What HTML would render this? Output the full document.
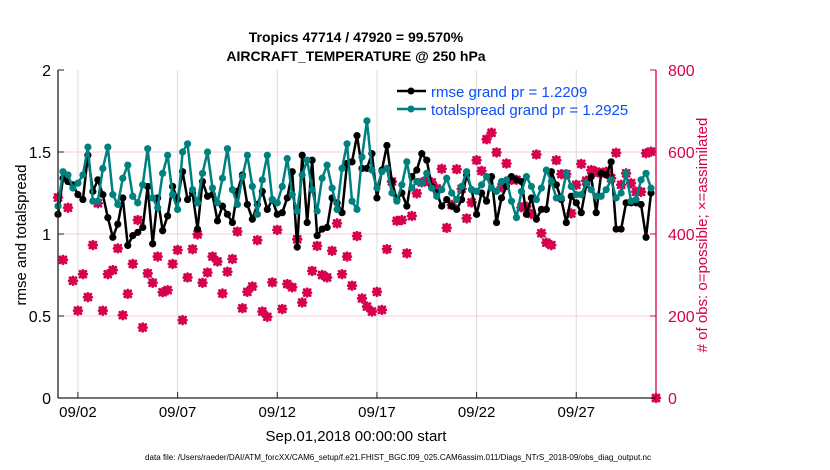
<!DOCTYPE html>
<html><head><meta charset="utf-8"><style>
body{margin:0;background:#fff;}
svg{display:block;font-family:"Liberation Sans",sans-serif;}
</style></head><body>
<svg id="chart" width="830" height="470" xmlns="http://www.w3.org/2000/svg">
<text x="356" y="42" font-size="14" font-weight="bold" text-anchor="middle">Tropics 47714 / 47920 = 99.570%</text>
<text x="356" y="61" font-size="14" font-weight="bold" text-anchor="middle">AIRCRAFT_TEMPERATURE @ 250 hPa</text>
<g id="grid"></g>
<g id="marks"></g>
<g id="axes"></g>
<text transform="translate(26,235) rotate(-90)" font-size="15" text-anchor="middle">rmse and totalspread</text>
<text transform="translate(707,235) rotate(-90)" font-size="15" text-anchor="middle" fill="#d6004f"># of obs: o=possible; ×=assimilated</text>
<text x="356" y="441" font-size="15" text-anchor="middle">Sep.01,2018 00:00:00 start</text>
<text x="398" y="460" font-size="8.1" text-anchor="middle" textLength="506" lengthAdjust="spacingAndGlyphs">data file: /Users/raeder/DAI/ATM_forcXX/CAM6_setup/f.e21.FHIST_BGC.f09_025.CAM6assim.011/Diags_NTrS_2018-09/obs_diag_output.nc</text>
<g>
<line x1="397" y1="91" x2="426" y2="91" stroke="#000" stroke-width="2.5"/><circle cx="411" cy="91" r="3.5" fill="#000"/>
<text x="431" y="97" font-size="15" fill="#0a4dff">rmse grand pr = 1.2209</text>
<line x1="397" y1="109" x2="426" y2="109" stroke="#00807f" stroke-width="2.5"/><circle cx="411" cy="109" r="3.5" fill="#00807f"/>
<text x="431" y="115" font-size="15" fill="#0a4dff">totalspread grand pr = 1.2925</text>
</g>
</svg>
<script>
const rmse=[1.12,1.34,1.32,1.30,1.24,1.21,1.48,1.26,1.33,1.24,1.10,0.98,1.06,1.22,0.93,0.99,1.01,1.04,1.29,0.94,1.22,1.02,1.11,1.29,1.21,1.38,1.21,1.25,1.03,1.32,1.23,
1.24,1.08,1.17,1.12,1.07,1.26,1.36,1.18,1.09,1.18,1.26,1.15,1.21,1.12,1.13,1.22,1.38,0.92,1.48,1.07,1.45,0.99,1.03,1.04,1.22,1.19,1.13,1.43,1.44,1.60,
1.40,1.40,1.49,1.22,1.39,1.54,1.32,1.21,1.25,1.17,1.35,1.39,1.49,1.45,1.29,1.25,1.17,1.21,1.17,1.15,1.21,1.36,1.27,1.12,1.25,1.20,1.35,1.07,1.22,1.29,
1.35,1.33,1.32,1.12,1.22,1.09,1.15,1.15,1.38,1.30,1.21,1.07,1.23,1.19,1.13,1.30,1.35,1.13,1.37,1.36,1.44,1.03,1.03,1.19,1.19,1.19,1.18,0.98,1.25];
const spread=[1.17,1.38,1.36,1.28,1.31,1.36,1.53,1.20,1.20,1.40,1.53,1.24,1.18,1.34,1.42,1.23,1.19,1.30,1.52,1.22,1.16,1.37,1.48,1.24,1.15,1.50,1.55,1.27,1.19,1.37,1.50,
1.28,1.19,1.34,1.52,1.27,1.18,1.35,1.48,1.29,1.12,1.33,1.48,1.21,1.19,1.29,1.46,1.24,1.14,1.36,1.45,1.27,1.14,1.34,1.42,1.28,1.15,1.40,1.55,1.20,1.15,
1.47,1.69,1.39,1.28,1.38,1.40,1.25,1.20,1.30,1.44,1.28,1.32,1.31,1.37,1.28,1.23,1.27,1.34,1.25,1.21,1.29,1.38,1.27,1.26,1.30,1.35,1.28,1.26,1.32,1.33,
1.20,1.10,1.26,1.35,1.29,1.21,1.28,1.39,1.32,1.22,1.22,1.37,1.29,1.24,1.24,1.31,1.27,1.23,1.23,1.27,1.33,1.22,1.25,1.37,1.20,1.21,1.33,1.37,1.28];
const nobs=[489,337,464,286,213,302,246,373,475,213,302,312,365,202,254,327,434,172,304,281,345,258,263,327,361,190,294,363,399,281,306,
345,333,255,308,339,406,219,259,272,385,211,198,282,410,217,278,270,387,233,257,310,371,300,294,359,426,302,345,274,395,
243,223,211,259,215,363,528,432,434,353,444,499,526,530,526,511,559,415,471,558,510,438,477,580,554,631,647,599,514,572,
532,532,465,467,449,594,402,379,373,580,546,546,450,520,571,530,556,552,548,552,536,598,520,548,524,503,503,597,601,0];
const xTickLabels=["09/02","09/07","09/12","09/17","09/22","09/27"];
const xTickDays=[1,6,11,16,21,26];
const yLeftTicks=[0,0.5,1,1.5,2];
const yRightTicks=[0,200,400,600,800];

const X0=58,X1=656,Y0=398,Y1=70,NS="http://www.w3.org/2000/svg";
const xDay=d=>X0+(X1-X0)*d/30;
const yL=v=>Y0-(Y0-Y1)*v/2;
const yR=v=>Y0-(Y0-Y1)*v/800;
function mk(t,a,p){const e=document.createElementNS(NS,t);for(const k in a)e.setAttribute(k,a[k]);p.appendChild(e);return e;}
const grid=document.getElementById('grid'),marks=document.getElementById('marks'),axes=document.getElementById('axes');
xTickDays.forEach((d,i)=>{
 const g=mk('line',{x1:xDay(d),x2:xDay(d),y1:Y1,y2:Y0,stroke:'#dcdcdc','stroke-width':1},grid);
 
 
 const t=mk('line',{x1:xDay(d),x2:xDay(d),y1:Y0,y2:Y0-6,stroke:'#222','stroke-width':1},axes);
 
 
 const l=mk('text',{x:xDay(d),y:417,'font-size':15,'text-anchor':'middle'},axes);l.textContent=xTickLabels[i];
 
 
});
yRightTicks.forEach(v=>{
 if(v>0&&v<800){const g=mk('line',{x1:X0,x2:X1,y1:yR(v),y2:yR(v),stroke:'#f7cbdc','stroke-width':1},grid);
 
 }
 const t=mk('line',{x1:X1,x2:X1-6,y1:yR(v),y2:yR(v),stroke:'#d6004f','stroke-width':1},axes);
 
 
 const l=mk('text',{x:668,y:yR(v)+6,'font-size':16,fill:'#d6004f'},axes);l.textContent=v;
 
 
});
yLeftTicks.forEach(v=>{
 const t=mk('line',{x1:X0,x2:X0+6,y1:yL(v),y2:yL(v),stroke:'#222','stroke-width':1},axes);
 
 
 const l=mk('text',{x:51,y:yL(v)+6,'font-size':16,'text-anchor':'end'},axes);l.textContent=v;
 
 
});
const la=mk('line',{x1:X0,x2:X0,y1:Y1,y2:Y0,stroke:'#222','stroke-width':1.3},axes);


const ba=mk('line',{x1:X0,x2:X1,y1:Y0,y2:Y0,stroke:'#222','stroke-width':1.3},axes);


const ra=mk('line',{x1:X1,x2:X1,y1:Y1,y2:Y0,stroke:'#d6004f','stroke-width':1.3},axes);


nobs.forEach((v,i)=>{
 const cx=xDay(i/4),cy=yR(v);
 const g=mk('g',{stroke:'#d6004f','stroke-width':2.8,'stroke-linecap':'round'},marks);
 
 
 mk('line',{x1:cx-3,y1:cy-3,x2:cx+3,y2:cy+3},g);mk('line',{x1:cx-3,y1:cy+3,x2:cx+3,y2:cy-3},g);
 mk('line',{x1:cx-3.8,y1:cy,x2:cx+3.8,y2:cy},g);mk('line',{x1:cx,y1:cy-3.8,x2:cx,y2:cy+3.8},g);
});
function series(arr,col,name){
 const p=mk('polyline',{points:arr.map((v,i)=>xDay(i/4)+','+yL(v)).join(' '),fill:'none',stroke:col,'stroke-width':2.5,'stroke-linejoin':'round'},marks);
 
 
 arr.forEach((v,i)=>{const c=mk('circle',{cx:xDay(i/4),cy:yL(v),r:3.6,fill:col},marks);
  
  });
}
series(rmse,'#000','rmse');
series(spread,'#00807f','totalspread');
</script>
</body></html>
